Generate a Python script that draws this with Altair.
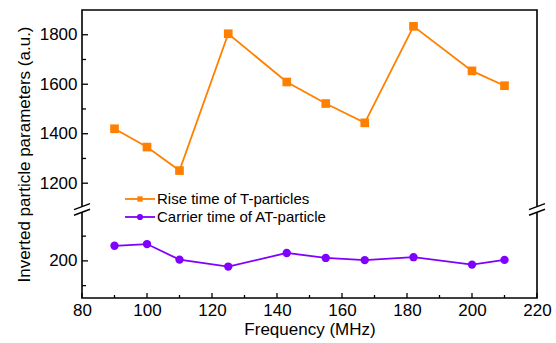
import altair as alt
import pandas as pd

# ---- data ----
freq = [90, 100, 110, 125, 143, 155, 167, 182, 200, 210]
rise_time = [1420, 1346, 1251, 1804, 1609, 1522, 1444, 1834, 1654, 1594]
carrier_time = [261, 268, 205, 177, 232, 212, 203, 215, 185, 204]
series = ["Rise time of T-particles", "Carrier time of AT-particle"]

x_major = [80, 100, 120, 140, 160, 180, 200, 220]
x_minor = [90, 110, 130, 150, 170, 190, 210]
y_major_upper = [1200, 1400, 1600, 1800]
y_minor_upper = [1300, 1500, 1700]
y_major_lower = [200]
y_minor_lower = [100, 300]

# broken axis: lower segment is shifted up onto one continuous scale
SHIFT = 686
BREAK = 1094
W, H = 455, 288
ORANGE = "#FF8000"
PURPLE = "#8000FF"
FONT = "Liberation Sans"

df_rise = pd.DataFrame({"freq": freq, "y": rise_time, "series": series[0]})
df_car = pd.DataFrame({"freq": freq, "y": [v + SHIFT for v in carrier_time], "series": series[1]})

y_major = y_major_upper + [v + SHIFT for v in y_major_lower]
y_minor = y_minor_upper + [v + SHIFT for v in y_minor_lower]

xs = alt.Scale(domain=[80, 220], nice=False, zero=False)
ys = alt.Scale(domain=[736, 1900], nice=False, zero=False)

X = alt.X("freq:Q", scale=xs, axis=alt.Axis(
    values=x_major, ticks=False, domain=False, grid=False, labelFlush=False,
    labelFontSize=17, labelPadding=4, labelColor="black", labelFont=FONT,
    title="Frequency (MHz)", titleFontSize=17, titleFontWeight="normal",
    titleFont=FONT, titleColor="black", titlePadding=3))
Y = alt.Y("y:Q", scale=ys, axis=alt.Axis(
    values=y_major, ticks=False, domain=False, grid=False, labelFlush=False,
    labelExpr=f"'' + (datum.value > {BREAK} ? datum.value : datum.value - {SHIFT})",
    labelFontSize=17, labelPadding=5, labelColor="black", labelFont=FONT,
    title="Inverted particle parameters (a.u.)", titleFontSize=17,
    titleFontWeight="normal", titleFont=FONT, titleColor="black", titlePadding=6))

rise_line = alt.Chart(df_rise).mark_line(color=ORANGE, strokeWidth=1.8).encode(x=X, y=Y)
rise_pts = alt.Chart(df_rise).mark_point(shape="square", filled=True, size=75, color=ORANGE, opacity=1).encode(x=X, y=Y)
car_line = alt.Chart(df_car).mark_line(color=PURPLE, strokeWidth=1.8).encode(x=X, y=Y)
car_pts = alt.Chart(df_car).mark_point(shape="circle", filled=True, size=70, color=PURPLE, opacity=1).encode(x=X, y=Y)

# inward ticks
ytick_major = alt.Chart(pd.DataFrame({"y": y_major})).mark_rule(color="black", strokeWidth=1.3).encode(
    y=Y, x=alt.value(0), x2=alt.value(6))
ytick_minor = alt.Chart(pd.DataFrame({"y": y_minor})).mark_rule(color="black", strokeWidth=1.3).encode(
    y=Y, x=alt.value(0), x2=alt.value(4))
xtick_major = alt.Chart(pd.DataFrame({"freq": x_major})).mark_rule(color="black", strokeWidth=1.3).encode(
    x=X, y=alt.value(H), y2=alt.value(H - 5))
xtick_minor = alt.Chart(pd.DataFrame({"freq": x_minor})).mark_rule(color="black", strokeWidth=1.3).encode(
    x=X, y=alt.value(H), y2=alt.value(H - 3))

one = pd.DataFrame({"a": [0]})
breaks = []
for xpos in [0, W]:
    breaks.append(alt.Chart(one).mark_rule(color="white", strokeWidth=5, yOffset=-2.8, y2Offset=2.8).encode(
        x=alt.value(xpos), y=alt.datum(BREAK, scale=ys), y2=alt.datum(BREAK)))
    for dy in [-2.8, 2.8]:
        breaks.append(alt.Chart(one).mark_rule(color="black", strokeWidth=1.4,
                                               yOffset=dy + 3, y2Offset=dy - 3).encode(
            x=alt.value(xpos - 8), x2=alt.value(xpos + 8),
            y=alt.datum(BREAK, scale=ys), y2=alt.datum(BREAK)))

# legend
legend = []
for i, (name, col, shp, sz) in enumerate([(series[0], ORANGE, "square", 28), (series[1], PURPLE, "circle", 38)]):
    ly = 189 + i * 18
    legend.append(alt.Chart(one).mark_rule(color=col, strokeWidth=1.8).encode(
        x=alt.value(43), x2=alt.value(73), y=alt.value(ly)))
    legend.append(alt.Chart(one).mark_point(shape=shp, filled=True, size=sz, color=col, opacity=1).encode(
        x=alt.value(58), y=alt.value(ly)))
    legend.append(alt.Chart(one).mark_text(align="left", baseline="middle", fontSize=15, font=FONT, color="black").encode(
        x=alt.value(75), y=alt.value(ly), text=alt.value(name)))

chart = alt.layer(
    rise_line, rise_pts, car_line, car_pts,
    ytick_major, ytick_minor, xtick_major, xtick_minor,
    *breaks, *legend
).properties(
    width=W, height=H,
    autosize=alt.AutoSizeParams(type="none"),
    padding={"left": 82, "top": 10, "right": 19, "bottom": 45},
    background="white",
).configure_view(stroke="black", strokeWidth=1.6)

chart.save("out.html", embed_options={"renderer": "svg", "actions": False})
